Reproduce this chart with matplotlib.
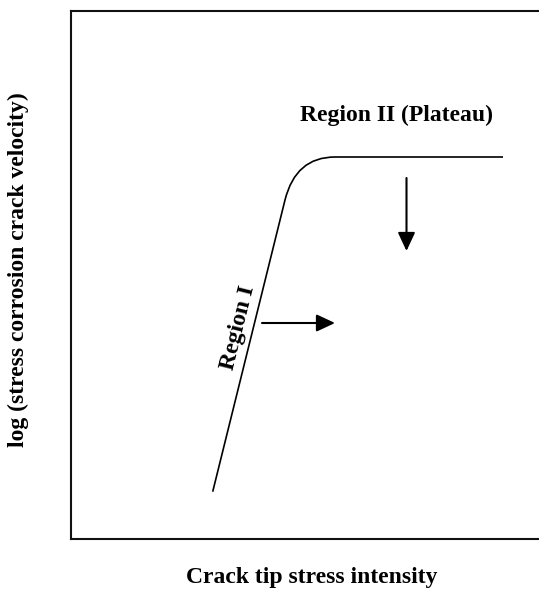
import matplotlib
matplotlib.use("Agg")
import matplotlib.pyplot as plt
from matplotlib.path import Path
from matplotlib.patches import PathPatch

# Schematic crack-growth curve (axis units are arbitrary, y grows downward)
region1_start = (212.7, 491.7)
region1_end = (285.0, 200.0)
knee_control = (295.7, 157.0)
plateau_start = (335.0, 157.0)
plateau_end = (503.0, 157.0)

# Arrows indicating shifts of the curve
right_arrow = ((262.0, 323.0), (335.0, 323.0))
down_arrow = ((406.5, 178.0), (406.5, 251.0))

title_region2 = "Region II (Plateau)"
title_region1 = "Region I"
xlabel = "Crack tip stress intensity"
ylabel = "log (stress corrosion crack velocity)"

W, H, DPI = 539, 599, 100
fig = plt.figure(figsize=(W / DPI, H / DPI), dpi=DPI)
ax = fig.add_axes([71 / W, 1 - 539 / H, 1 - 71 / W, (539 - 11) / H])
ax.set_xlim(71, 539)
ax.set_ylim(539, 11)
ax.set_xticks([])
ax.set_yticks([])
for side in ("left", "top", "bottom"):
    ax.spines[side].set_linewidth(1.5)
    ax.spines[side].set_color("#111111")
ax.spines["right"].set_visible(False)

verts = [region1_start, region1_end, knee_control, plateau_start, plateau_end]
codes = [Path.MOVETO, Path.LINETO, Path.CURVE3, Path.CURVE3, Path.LINETO]
ax.add_patch(PathPatch(Path(verts, codes), fill=False, lw=1.2, color="black"))

arrow_style = "-|>,head_length=0.75,head_width=0.35"
for (start, end) in (right_arrow, down_arrow):
    ax.annotate("", xy=end, xytext=start,
                arrowprops=dict(arrowstyle=arrow_style, mutation_scale=15,
                                lw=1.5, color="black", shrinkA=0, shrinkB=0))

serif = ["Liberation Serif", "DejaVu Serif"]
fs = 17
ax.text(396, 115, title_region2, ha="center", va="center",
        fontsize=fs, fontweight="bold", family=serif)
ax.text(238, 328, title_region1, ha="center", va="center", rotation=76,
        fontsize=fs, fontweight="bold", family=serif)

fig.text(312 / W, 1 - 577 / H, xlabel, ha="center", va="center",
         fontsize=fs, fontweight="bold", family=serif)
fig.text(18 / W, 1 - 270 / H, ylabel, ha="center", va="center", rotation=90,
         fontsize=fs, fontweight="bold", family=serif)

fig.savefig("out.png", dpi=DPI)
